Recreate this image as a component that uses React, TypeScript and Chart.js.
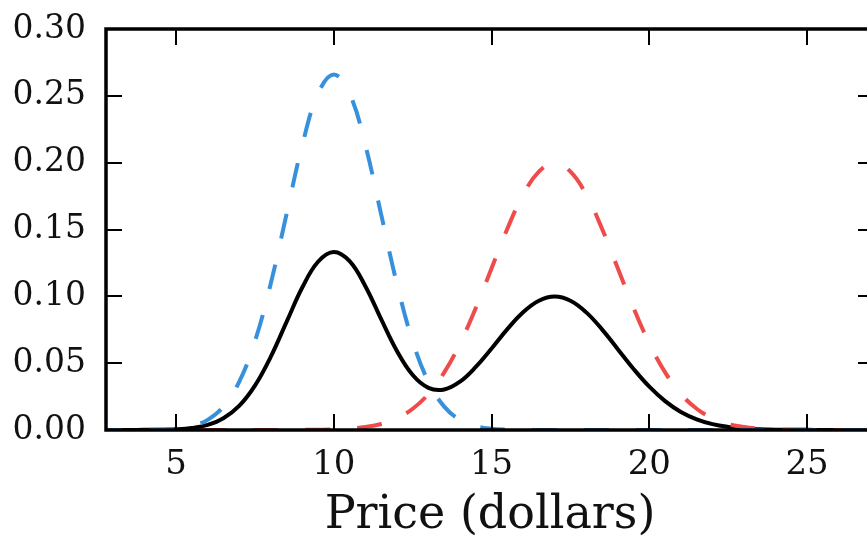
import React, { useEffect, useRef } from "react";
import { Chart, registerables } from "chart.js";

Chart.register(...registerables);

const prices = [
  2.5, 3, 3.5, 4, 4.5, 5, 5.5, 6, 6.5, 7, 7.5, 8, 8.5, 9, 9.5, 10, 10.5, 11, 11.5, 12, 12.5, 13, 13.5, 14,
  14.5, 15, 15.5, 16, 16.5, 17, 17.5, 18, 18.5, 19, 19.5, 20, 20.5, 21, 21.5, 22, 22.5, 23, 23.5, 24, 24.5,
  25, 25.5, 26, 26.5, 27, 27.5,
];

const lowPrice = [
  0, 0, 0, 0.0001, 0.0003, 0.001, 0.003, 0.0076, 0.0175, 0.036, 0.0663, 0.1094, 0.1613, 0.213, 0.2516, 0.266,
  0.2516, 0.213, 0.1613, 0.1094, 0.0663, 0.036, 0.0175, 0.0076, 0.003, 0.001, 0.0003, 0.0001, 0, 0, 0, 0, 0,
  0, 0, 0, 0, 0, 0, 0, 0, 0, 0, 0, 0, 0, 0, 0, 0, 0, 0,
];

const highPrice = [
  0, 0, 0, 0, 0, 0, 0, 0, 0, 0, 0, 0, 0, 0.0001, 0.0002, 0.0004, 0.001, 0.0022, 0.0045, 0.0088, 0.0159, 0.027,
  0.0431, 0.0648, 0.0913, 0.121, 0.1506, 0.176, 0.1933, 0.1995, 0.1933, 0.176, 0.1506, 0.121, 0.0913, 0.0648,
  0.0431, 0.027, 0.0159, 0.0088, 0.0045, 0.0022, 0.001, 0.0004, 0.0002, 0.0001, 0, 0, 0, 0, 0,
];

const mixture = [
  0, 0, 0, 0.0001, 0.0002, 0.0005, 0.0015, 0.0038, 0.0088, 0.018, 0.0332, 0.0547, 0.0807, 0.1066, 0.1259,
  0.1332, 0.1263, 0.1076, 0.0829, 0.0591, 0.0411, 0.0315, 0.0303, 0.0362, 0.0472, 0.061, 0.0755, 0.0881,
  0.0967, 0.0998, 0.0967, 0.088, 0.0753, 0.0605, 0.0457, 0.0324, 0.0216, 0.0135, 0.008, 0.0044, 0.0023,
  0.0011, 0.0005, 0.0002, 0.0001, 0.0001, 0, 0, 0, 0, 0,
];

const xTickValues = [5, 10, 15, 20, 25];
const yTickValues = [0, 0.05, 0.1, 0.15, 0.2, 0.25, 0.3];
const xTitle = "Price (dollars)";

const FONT = "'DejaVu Serif', serif";

const framePlugin = {
  id: "frame",
  afterDatasetsDraw(chart: any) {
    const { ctx, chartArea, scales } = chart;
    const { left, right, top, bottom } = chartArea;
    const tl = 16;
    ctx.save();
    ctx.strokeStyle = "#000";
    ctx.lineWidth = 2;
    ctx.beginPath();
    for (const v of xTickValues) {
      const px = Math.round(scales.x.getPixelForValue(v));
      ctx.moveTo(px, bottom);
      ctx.lineTo(px, bottom - tl);
      ctx.moveTo(px, top);
      ctx.lineTo(px, top + tl);
    }
    for (const v of yTickValues) {
      const py = Math.round(scales.y.getPixelForValue(v));
      ctx.moveTo(left, py);
      ctx.lineTo(left + tl, py);
      ctx.moveTo(right, py);
      ctx.lineTo(right - tl, py);
    }
    ctx.stroke();
    ctx.lineWidth = 3.5;
    ctx.strokeRect(left, top, right - left, bottom - top);
    ctx.restore();
  },
};

export default function App() {
  const ref = useRef<HTMLCanvasElement | null>(null);

  useEffect(() => {
    if (!ref.current) return;
    const toPts = (ys: number[]) => prices.map((x, i) => ({ x, y: ys[i] }));
    const chart = new Chart(ref.current, {
      type: "line",
      data: {
        datasets: [
          {
            label: "low",
            data: toPts(lowPrice),
            borderColor: "#3690dc",
            borderWidth: 4,
            borderDash: [25, 27],
            pointRadius: 0,
            tension: 0.4,
            fill: false,
          },
          {
            label: "high",
            data: toPts(highPrice),
            borderColor: "#f04b4b",
            borderWidth: 4,
            borderDash: [25, 27],
            pointRadius: 0,
            tension: 0.4,
            fill: false,
          },
          {
            label: "mixture",
            data: toPts(mixture),
            borderColor: "#000000",
            borderWidth: 4,
            pointRadius: 0,
            tension: 0.4,
            fill: false,
          },
        ],
      },
      options: {
        responsive: false,
        animation: false,
        events: [],
        layout: { padding: { top: 29, right: 6, left: 0, bottom: 0 } },
        plugins: { legend: { display: false }, tooltip: { enabled: false } },
        scales: {
          x: {
            type: "linear",
            min: 2.78,
            max: 27.12,
            grid: { display: false, drawTicks: false },
            border: { display: false },
            afterBuildTicks: (scale: any) => {
              scale.ticks = xTickValues.map((v) => ({ value: v }));
            },
            afterFit: (scale: any) => {
              scale.height = 119;
              scale.paddingLeft = 0;
              scale.paddingRight = 0;
            },
            ticks: {
              autoSkip: false,
              maxRotation: 0,
              padding: 15,
              color: "#111",
              font: { family: FONT, size: 34 },
              callback: (v: any) => String(v),
            },
            title: {
              display: true,
              text: xTitle,
              color: "#111",
              font: { family: FONT, size: 46 },
              padding: { top: 0, bottom: 5 },
            },
          },
          y: {
            type: "linear",
            min: 0,
            max: 0.3,
            grid: { display: false, drawTicks: false },
            border: { display: false },
            afterBuildTicks: (scale: any) => {
              scale.ticks = yTickValues.map((v) => ({ value: v }));
            },
            afterFit: (scale: any) => {
              scale.width = 106;
              scale.paddingTop = 0;
              scale.paddingBottom = 0;
            },
            ticks: {
              padding: 20,
              color: "#111",
              font: { family: FONT, size: 33 },
              callback: (v: any) => Number(v).toFixed(2),
            },
          },
        },
      },
      plugins: [framePlugin],
    } as any);
    return () => chart.destroy();
  }, []);

  return (
    <div style={{ position: "fixed", left: 0, top: 0, width: 880, height: 549, background: "#fff" }}>
      <canvas ref={ref} width={880} height={549} style={{ display: "block" }} />
    </div>
  );
}
